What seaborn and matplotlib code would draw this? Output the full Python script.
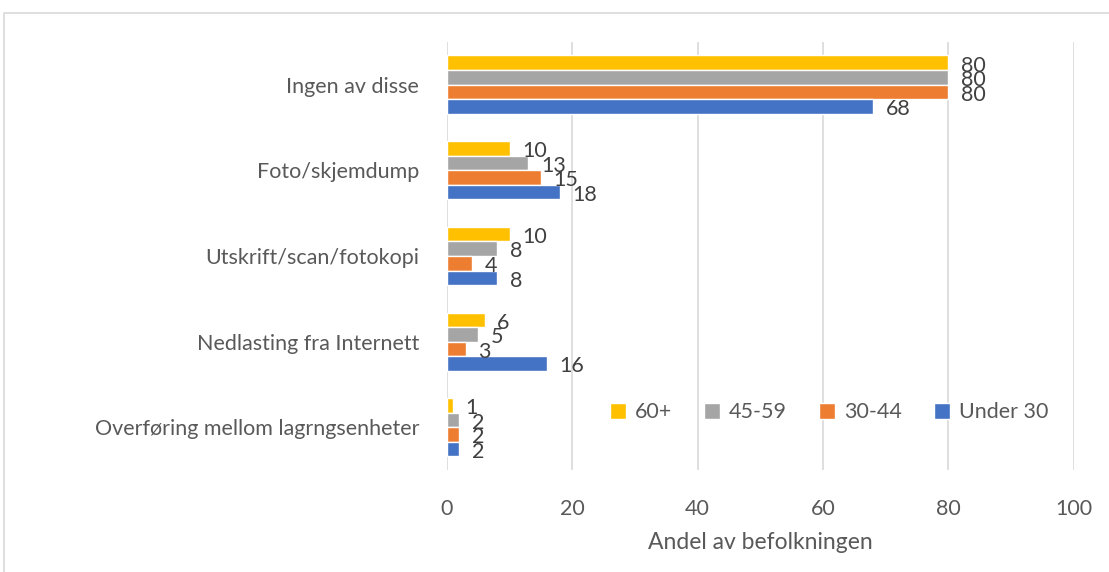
import pandas as pd
import matplotlib.pyplot as plt
import seaborn as sns
from matplotlib.patches import Rectangle

# Data
categories = ['Ingen av disse', 'Foto/skjemdump', 'Utskrift/scan/fotokopi',
              'Nedlasting fra Internett', 'Overføring mellom lagrngsenheter']
groups = ['60+', '45-59', '30-44', 'Under 30']
vals_60 = [80, 10, 10, 6, 1]
vals_45 = [80, 13, 8, 5, 2]
vals_30 = [80, 15, 4, 3, 2]
vals_u30 = [68, 18, 8, 16, 2]
colors = ['#FFC000', '#A5A5A5', '#ED7D31', '#4472C4']

rows = []
for g, vals in zip(groups, [vals_60, vals_45, vals_30, vals_u30]):
    for c, v in zip(categories, vals):
        rows.append({'Kategori': c, 'Gruppe': g, 'Andel': v})
df = pd.DataFrame(rows)

sns.set_style('white')
plt.rcParams['font.family'] = ['Lato', 'DejaVu Sans']

fig = plt.figure(figsize=(11.09, 5.72), dpi=100)
ax = fig.add_axes([0.403, 0.178, 0.565, 0.749])

sns.barplot(data=df, y='Kategori', x='Andel', hue='Gruppe', order=categories,
            hue_order=groups, palette=colors, orient='h', width=0.68, gap=0,
            saturation=1, ax=ax, zorder=3)

for cont in ax.containers:
    labels = ax.bar_label(cont, fmt='%g', padding=9, fontsize=15.5, color='#404040')
    for t in labels:
        # Excel places these labels slightly below the bar centre
        t.xyann = (t.xyann[0], -2)

ax.set_xlim(0, 100)
ax.set_xticks([0, 20, 40, 60, 80, 100])
ax.set_ylim(4.5, -0.5)
ax.grid(axis='x', color='#D9D9D9', linewidth=1.2, zorder=0)
ax.grid(axis='y', visible=False)
for s in ax.spines.values():
    s.set_visible(False)
ax.tick_params(axis='x', length=0, pad=21, labelsize=15.5, labelcolor='#595959')
ax.tick_params(axis='y', length=0, pad=20, labelsize=15.5, labelcolor='#595959')
ax.set_ylabel('')
ax.set_xlabel('Andel av befolkningen', fontsize=16.5, color='#595959', labelpad=9)

ax.legend(loc='center', bbox_to_anchor=(0.61, 0.135), ncol=4, frameon=False,
          fontsize=15.5, handlelength=0.75, handleheight=0.75, handletextpad=0.4,
          columnspacing=1.5, labelcolor='#595959')

# outer chart frame
fig.patches.append(Rectangle((0.004, -0.1), 1.1, 1.077, transform=fig.transFigure,
                             fill=False, edgecolor='#D9D9D9', linewidth=1.2))

fig.savefig('out.png', dpi=100)
